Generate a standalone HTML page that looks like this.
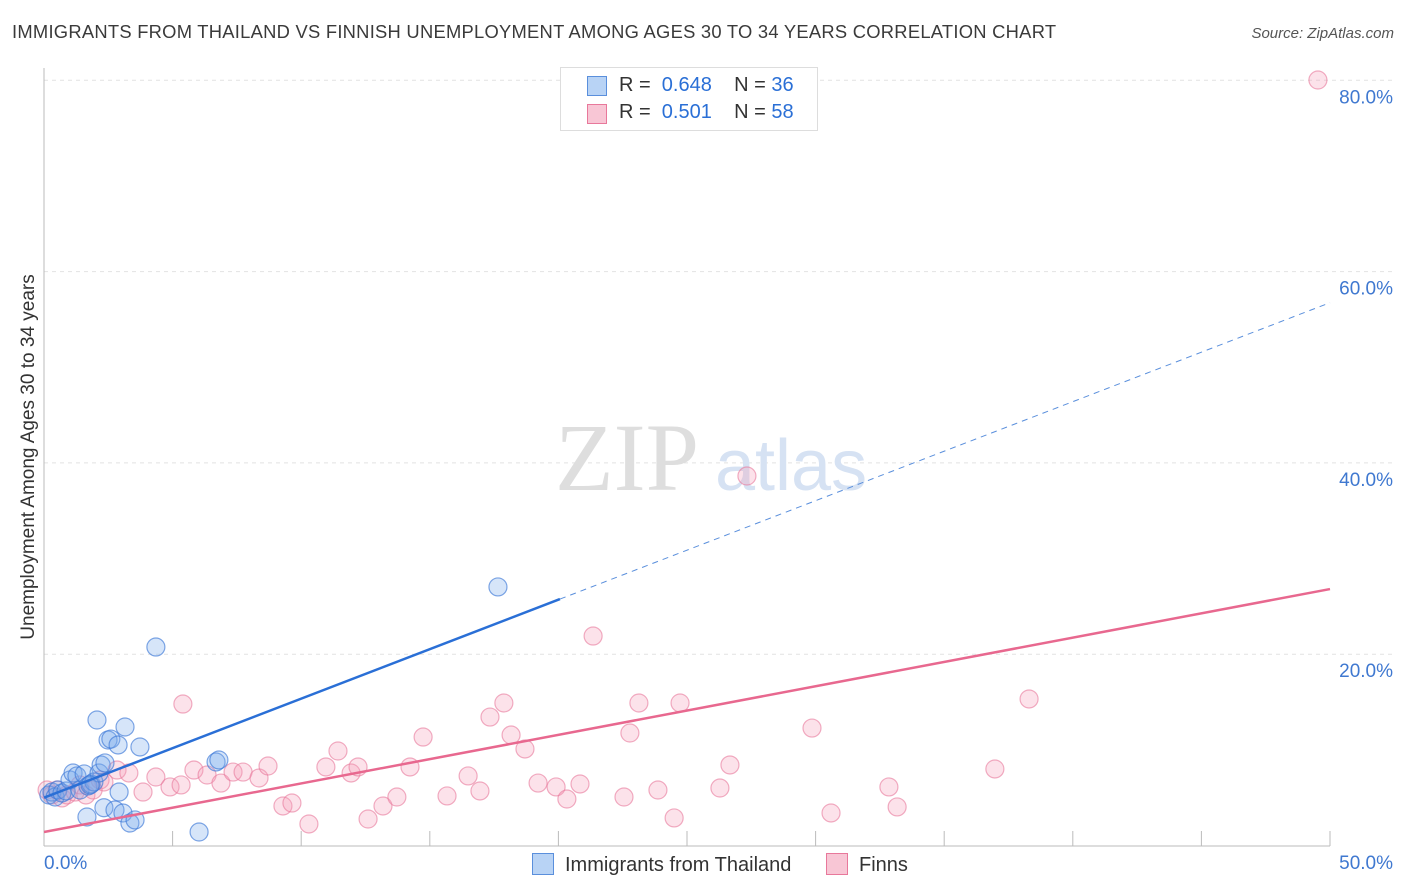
<!DOCTYPE html>
<html><head><meta charset="utf-8"><style>
body{margin:0;background:#fff;font-family:"Liberation Sans",sans-serif;}
#wrap{position:relative;width:1406px;height:892px;overflow:hidden}
.t{position:absolute;white-space:nowrap}
</style></head><body>
<div id="wrap">
<div class="t" style="left:12px;top:22px;font-size:18px;letter-spacing:0.25px;color:#3a3a3a;transform:scaleX(1.02);transform-origin:left">IMMIGRANTS FROM THAILAND VS FINNISH UNEMPLOYMENT AMONG AGES 30 TO 34 YEARS CORRELATION CHART</div>
<div class="t" style="right:12px;top:25px;font-size:15px;font-style:italic;color:#555">Source: ZipAtlas.com</div>
<svg id="svg" width="1406" height="892" style="position:absolute;left:0;top:0"></svg>
</div>
<script>
const xTicks=[0,50];
const yTicks=[20,40,60,80];
const blueX=[0.19,0.31,0.43,0.54,0.70,0.86,1.01,1.13,1.28,1.40,1.56,1.71,1.83,1.94,2.06,2.14,2.22,2.37,2.49,2.60,2.88,2.92,3.15,3.73,2.33,1.67,2.76,3.07,3.34,3.54,4.35,6.03,6.69,6.80,17.65,1.79];
const blueY=[5.28,5.59,5.07,5.80,5.49,5.70,6.85,7.58,7.27,5.80,7.48,6.22,6.43,6.64,13.12,7.58,8.42,8.63,11.03,11.13,10.51,5.59,12.39,10.30,3.95,2.98,3.71,3.40,2.35,2.67,20.75,1.41,8.73,8.94,27.03,6.33];
const pinkX=[0.12,0.31,0.51,0.70,0.89,1.21,1.40,1.63,1.91,2.18,2.33,2.84,3.30,3.85,4.35,4.90,5.33,5.40,5.83,6.34,6.88,7.35,7.74,8.36,8.71,9.29,9.64,10.30,10.96,11.43,11.94,12.21,12.60,13.18,13.72,14.23,14.74,15.67,16.49,16.95,17.34,17.88,18.16,18.70,19.21,19.91,20.33,20.84,21.35,22.55,22.78,23.13,23.87,24.50,24.73,26.28,26.67,27.33,29.86,30.60,32.85,33.17,36.97,38.30,49.53];
const pinkY=[5.80,5.28,5.80,4.97,5.28,5.59,6.33,5.28,5.80,6.85,6.64,7.89,7.58,5.59,7.16,6.12,6.33,14.79,7.89,7.37,6.53,7.68,7.68,7.06,8.31,4.13,4.44,2.25,8.21,9.88,7.58,8.21,2.77,4.13,5.07,8.21,11.34,5.18,7.27,5.70,13.43,14.90,11.55,10.09,6.53,6.12,4.86,6.43,21.90,5.07,11.76,14.90,5.80,2.88,14.90,6.01,8.42,38.63,12.28,3.40,6.12,4.03,8.00,15.32,80.03];
const blueTrend=[5.0,1.035]; // intercept, slope
const pinkTrend=[1.41,0.508];
const NS="http://www.w3.org/2000/svg";
const svg=document.getElementById('svg');
const X=v=>44+v/50*1286;
const Y=v=>845.5-v/20*191.3;
function el(t,a,p){const e=document.createElementNS(NS,t);for(const k in a)e.setAttribute(k,a[k]);(p||svg).appendChild(e);return e;}
yTicks.forEach(v=>{
 const g=el('line',{x1:44,x2:1395,y1:Y(v),y2:Y(v),stroke:'#e2e2e2','stroke-dasharray':'4,4'});
 
 
 const t=el('text',{x:1393,y:Y(v)+23,'text-anchor':'end','font-size':19,fill:'#3f78d0'});
 t.textContent=v.toFixed(1)+'%';
 
 
});
el('line',{x1:44,x2:44,y1:68,y2:846,stroke:'#bbb'});
el('line',{x1:44,x2:1330,y1:846,y2:846,stroke:'#bbb'});
for(let i=1;i<=10;i++){const x=44+i*128.6;el('line',{x1:x,x2:x,y1:831,y2:846,stroke:'#bbb'});}
xTicks.forEach((v,i)=>{
 const t=el('text',{x:i?1393:44,y:869,'text-anchor':i?'end':'start','font-size':19,fill:'#3f78d0'});
 t.textContent=v.toFixed(1)+'%';
 
 
});
const w=el('text',{x:555,y:490,'font-size':96,fill:'#dedede','font-family':'Liberation Serif'});w.textContent='ZIP';


const w2=el('text',{x:715,y:490,'font-size':72,fill:'#d6e2f3'});w2.textContent='atlas';


function pts(xs,ys,fill,stroke,name){xs.forEach((x,i)=>{
 const c=el('circle',{cx:X(x),cy:Y(ys[i]),r:9,fill:fill,stroke:stroke,'stroke-width':1.2});
 
 
});}
pts(pinkX,pinkY,'rgba(244,160,185,0.3)','rgba(232,120,155,0.6)','finns-point');
pts(blueX,blueY,'rgba(120,170,235,0.3)','rgba(60,120,215,0.65)','thailand-point');
const bEnd=20.06;
const l1=el('line',{x1:X(0),y1:Y(blueTrend[0]),x2:X(bEnd),y2:Y(blueTrend[0]+blueTrend[1]*bEnd),stroke:'#2a6fd6','stroke-width':2.5});


const l2=el('line',{x1:X(bEnd),y1:Y(blueTrend[0]+blueTrend[1]*bEnd),x2:X(50),y2:Y(blueTrend[0]+blueTrend[1]*50),stroke:'#5a8fdc','stroke-width':1,'stroke-dasharray':'6,5'});


const l3=el('line',{x1:X(0),y1:Y(pinkTrend[0]),x2:X(50),y2:Y(pinkTrend[0]+pinkTrend[1]*50),stroke:'#e8688f','stroke-width':2.5});


const yt=el('text',{x:0,y:0,transform:'translate(34,457) rotate(-90)','text-anchor':'middle','font-size':19,fill:'#333'});
yt.textContent='Unemployment Among Ages 30 to 34 years';


</script>
<div class="t" style="left:560px;top:67px;width:256px;height:62px;border:1px solid #ddd;background:#fff;font-size:20px;color:#333">
 <div style="position:absolute;left:26px;top:8px;width:18px;height:18px;background:#b8d3f5;border:1px solid #5a8fdc"></div>
 <div style="position:absolute;left:58px;top:6px">R = <span style="color:#2a6fd6">&nbsp;0.648</span>&nbsp;&nbsp;&nbsp; N = <span style="color:#2a6fd6">36</span></div>
 <div style="position:absolute;left:26px;top:36px;width:18px;height:18px;background:#f8c6d5;border:1px solid #e8789b"></div>
 <div style="position:absolute;left:58px;top:33px">R = <span style="color:#2a6fd6">&nbsp;0.501</span>&nbsp;&nbsp;&nbsp; N = <span style="color:#2a6fd6">58</span></div>
</div>
<div class="t" style="left:532px;top:853px;font-size:20px;color:#333"><span style="display:inline-block;width:20px;height:20px;background:#b8d3f5;border:1px solid #5a8fdc;vertical-align:-4px;margin-right:11px"></span>Immigrants from Thailand</div>
<div class="t" style="left:826px;top:853px;font-size:20px;color:#333"><span style="display:inline-block;width:20px;height:20px;background:#f8c6d5;border:1px solid #e8789b;vertical-align:-4px;margin-right:11px"></span>Finns</div>
</body></html>
